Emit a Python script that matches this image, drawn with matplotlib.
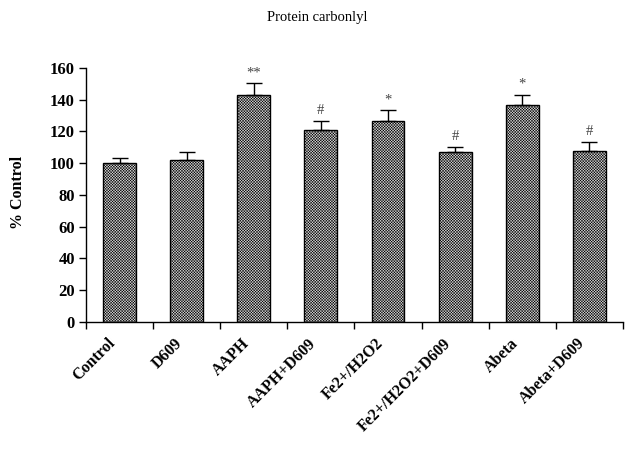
import numpy as np
import matplotlib

matplotlib.use("Agg")
import matplotlib.pyplot as plt

categories = ["Control", "D609", "AAPH", "AAPH+D609", "Fe2+/H2O2",
              "Fe2+/H2O2+D609", "Abeta", "Abeta+D609"]
values = [100.0, 102.3, 143.0, 120.7, 126.4, 106.9, 136.5, 107.7]
errors = [3.0, 4.7, 7.4, 5.7, 6.9, 3.1, 6.5, 5.7]
marks = ["", "", "**", "#", "*", "#", "*", "#"]
yticks = [0, 20, 40, 60, 80, 100, 120, 140, 160]

plt.rcParams["font.family"] = ["Liberation Serif", "DejaVu Serif"]
plt.rcParams["hatch.linewidth"] = 0.35
plt.rcParams["hatch.color"] = "black"

fig = plt.figure(figsize=(6.34, 4.49), dpi=100)
ax = fig.add_axes([0.1356, 0.2829, 0.8470, 0.5657])

x = np.arange(len(categories))
ax.bar(x, values, width=0.49, color="#dcdcdc", edgecolor="black",
       linewidth=1.0, hatch="x" * 12, zorder=2)
ax.errorbar(x, values, yerr=[np.zeros(len(values)), errors], fmt="none",
            ecolor="black", elinewidth=1.0, capsize=5.5, capthick=1.0, zorder=3)

for xi, v, e, m in zip(x, values, errors, marks):
    if m:
        ax.annotate(m, (xi, v + e), xytext=(0, 3), textcoords="offset points",
                    ha="center", va="bottom", fontsize=10.5, color="#444444")

ax.set_xlim(-0.5, len(categories) - 0.5)
ax.set_ylim(0, 160)
ax.set_yticks(yticks)
ax.set_yticklabels([str(t) for t in yticks], fontsize=12, fontweight="bold")
ax.set_xticks(np.arange(len(categories) + 1) - 0.5)
ax.set_xticklabels([])
ax.tick_params(axis="both", direction="out", length=5, width=1.0, color="black")
ax.tick_params(axis="y", pad=3)
for side in ["top", "right"]:
    ax.spines[side].set_visible(False)
for side in ["left", "bottom"]:
    ax.spines[side].set_linewidth(1.0)

# category labels, rotated 45 degrees and ending just under each bar
for i, lab in enumerate(categories):
    ax.text(i - 0.1, -0.075, lab, transform=ax.get_xaxis_transform(),
            rotation=45, ha="right", va="center", rotation_mode="anchor",
            fontsize=11.5, fontweight="bold")

fig.text(0.5, 1 - 18 / 449, "Protein carbonlyl", ha="center", va="center",
         fontsize=10.5)
fig.text(18 / 634, 1 - 192 / 449, "% Control", rotation=90, ha="center",
         va="center", fontsize=11.5, fontweight="bold")

fig.savefig("out.png", dpi=100)
